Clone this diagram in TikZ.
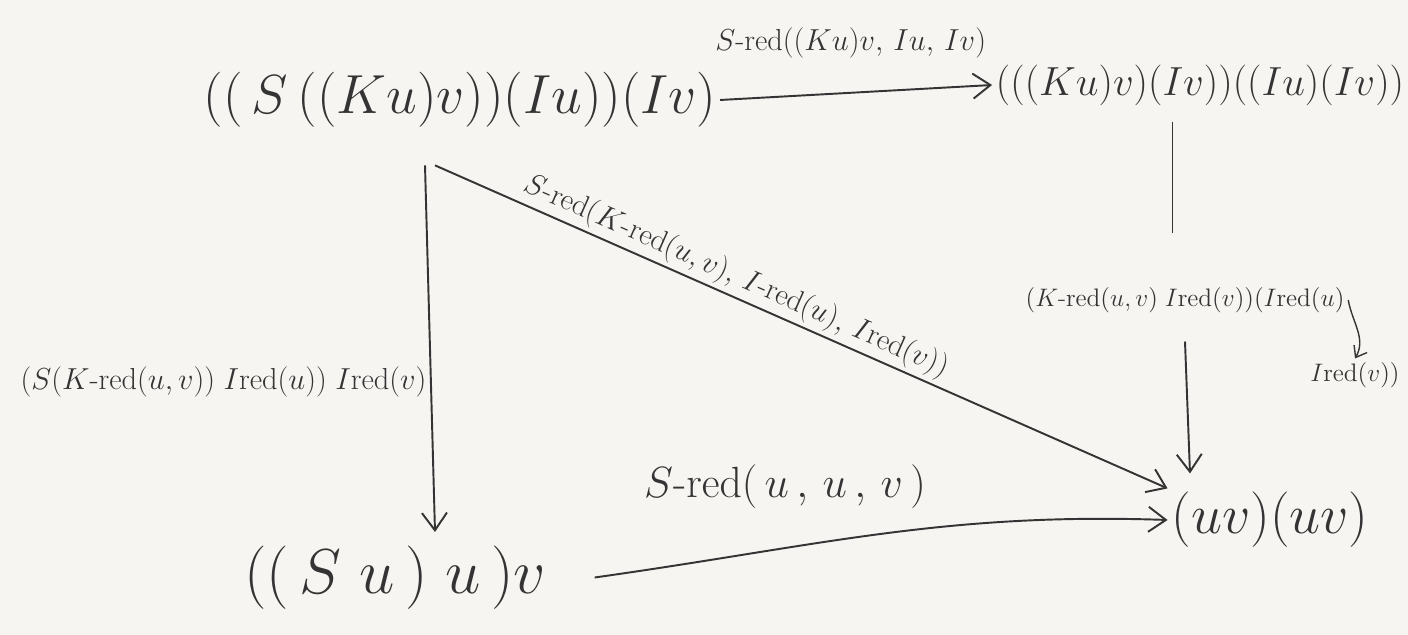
\documentclass[tikz,border=0pt]{standalone}
\usepackage{amsmath}
\usetikzlibrary{positioning,arrows.meta}
\definecolor{Pencil}{RGB}{52,52,52}
\definecolor{Paper}{RGB}{246,245,242}
\newcommand{\rd}{\text{-}\mathrm{red}}
\newcommand{\Ir}{I\mathrm{red}}
\tikzset{
	term/.style={text=Pencil,font=\fontsize{24.88}{30}\selectfont,inner sep=2pt},
	lab/.style={text=Pencil,font=\fontsize{17}{20}\selectfont,inner sep=2pt},
	conn/.style={draw=Pencil,line width=1.1pt,-{Straight Barb[length=3.5mm,width=5mm]}},
	bare/.style={draw=Pencil,line width=1.1pt},
}
\begin{document}
\begin{tikzpicture}
	\fill[Paper] (0,0) rectangle (28.16,12.7);
	\useasboundingbox (0,0) rectangle (28.16,12.7);
	\node[term] (src) at (9.2,10.7) {\scalebox{1.26}{$((\,S\,((K u)v))(I u))(I v)$}};
	\node[term] (rgt) at (24.0,11.0) {\scalebox{0.93}{$(((K u)v)(I v))((I u)(I v))$}};
	\node[term] (lft) at (7.9,1.15) {\scalebox{1.45}{$((\,S\;u\,)\;u\,)v$}};
	\node[term] (tgt) at (25.4,2.3) {\scalebox{1.27}{$(u v)(u v)$}};
	\node[lab,font=\fontsize{15}{18}\selectfont] (mid) at (23.7,6.7) {$(K\rd(u,v)\;\Ir(v))(\Ir(u)$};
	\node[lab,font=\fontsize{15}{18}\selectfont] (tail) at (27.1,5.2) {$\Ir(v))$};
	\draw[conn] (src.east) -- node[lab,above=0.6cm,pos=0.48] {$S\rd((K u)v,\,I u,\,I v)$} (rgt.west);
	\draw[conn] ([xshift=-0.7cm,yshift=-0.68cm]src.south) -- node[lab,left,pos=0.59] {$(S(K\rd(u,v))\;\Ir(u))\;\Ir(v)$} ([xshift=0.8cm,yshift=0.2cm]lft.north);
	\draw[conn] ([xshift=-0.5cm,yshift=-0.68cm]src.south) -- node[lab,above,sloped,pos=0.4] {$S\rd(K\rd(u,v),\,I\rd(u),\,\Ir(v))$} (tgt.north west);
	\draw[bare] ([xshift=-0.55cm,yshift=-0.25cm]rgt.south) -- ([xshift=-0.25cm,yshift=1.0cm]mid.north);
	\draw[conn] ([yshift=-0.5cm]mid.south) -- ([xshift=-1.6cm,yshift=0.3cm]tgt.north);
	\draw[conn,line width=0.8pt,-{Straight Barb[length=2mm,width=3mm]}] (mid.east) to[out=-80,in=60] (tail.north);
	\draw[conn] ([xshift=0.9cm]lft.east) to[out=8,in=178] node[lab,font=\fontsize{24.88}{30}\selectfont,above=0.7cm,pos=0.32] {$S\rd(\,u\,,\,u\,,\,v\,)$} (tgt.west);
\end{tikzpicture}
\end{document}
